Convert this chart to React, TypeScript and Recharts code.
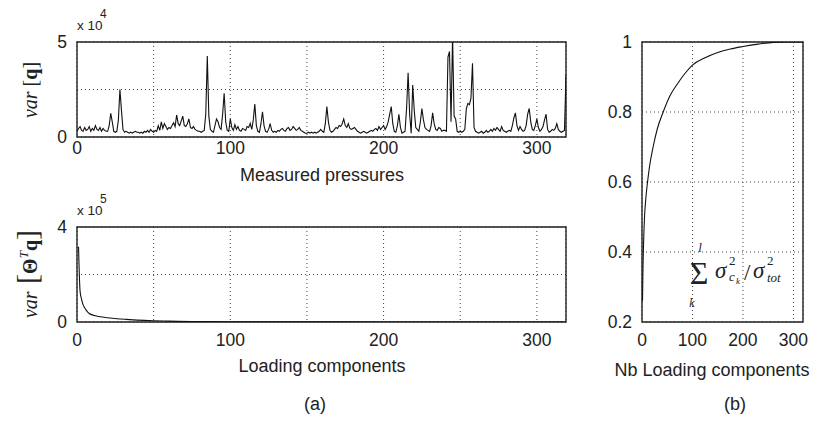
import React from 'react';
import { LineChart, Line, XAxis, YAxis, CartesianGrid, ReferenceArea } from 'recharts';

// variance of each measured pressure, x 10^4
const pressureVar: number[] = [
  0.30, 0.45, 0.55, 0.35, 0.30, 0.50, 0.35, 0.40, 0.55, 0.30, 0.45, 0.35, 0.60, 0.40, 0.35, 0.50, 0.30, 0.45, 0.35, 0.30,
  0.30, 0.60, 1.25, 0.80, 0.30, 0.25, 0.30, 0.90, 2.50, 1.40, 0.40, 0.25, 0.30, 0.25, 0.20, 0.25, 0.20, 0.25, 0.30, 0.25,
  0.25, 0.20, 0.25, 0.20, 0.30, 0.25, 0.35, 0.25, 0.40, 0.30, 0.25, 0.35, 0.30, 0.60, 0.35, 0.80, 0.45, 0.70, 0.55, 0.40,
  0.50, 0.45, 0.60, 0.75, 0.55, 1.16, 0.70, 0.60, 0.85, 1.10, 0.60, 0.55, 0.70, 0.95, 0.50, 0.45, 0.55, 0.40, 0.35, 0.30,
  0.30, 0.25, 0.30, 0.35, 1.20, 4.26, 1.10, 0.40, 0.30, 0.25, 0.60, 0.95, 0.80, 0.50, 0.40, 1.20, 2.30, 0.80, 0.35, 0.30,
  0.95, 0.50, 0.35, 0.65, 0.40, 0.55, 0.35, 0.30, 0.45, 0.40, 0.35, 0.55, 0.50, 0.72, 0.40, 0.90, 1.74, 0.60, 0.30, 0.25,
  0.70, 1.33, 0.60, 0.30, 0.25, 0.40, 0.70, 0.35, 0.25, 0.30, 0.25, 0.35, 0.30, 0.40, 0.45, 0.35, 0.30, 0.45, 0.50, 0.35,
  0.40, 0.55, 0.45, 0.35, 0.40, 0.50, 0.35, 0.30, 0.25, 0.20, 0.20, 0.25, 0.20, 0.25, 0.20, 0.25, 0.20, 0.25, 0.30, 0.40,
  0.30, 0.25, 0.70, 1.60, 0.80, 0.35, 0.25, 0.30, 0.40, 0.50, 0.45, 0.60, 0.55, 0.70, 0.95, 0.60, 0.50, 0.70, 0.45, 0.40,
  0.45, 0.50, 0.40, 0.30, 0.25, 0.20, 0.25, 0.30, 0.25, 0.20, 0.25, 0.30, 0.35, 0.30, 0.40, 0.45, 0.35, 0.55, 0.40, 0.50,
  0.60, 0.40, 0.55, 0.80, 1.20, 1.60, 0.70, 0.30, 0.25, 0.60, 1.20, 0.50, 0.20, 0.25, 0.30, 1.50, 3.38, 1.20, 0.20, 2.74,
  1.40, 0.50, 0.40, 0.30, 0.80, 1.50, 0.90, 0.50, 0.40, 0.35, 0.30, 0.60, 1.27, 0.70, 0.40, 0.35, 0.50, 0.45, 0.30, 0.35,
  0.35, 0.30, 4.20, 4.50, 0.80, 5.30, 1.10, 0.95, 0.30, 0.25, 0.30, 0.25, 0.30, 0.40, 1.50, 1.77, 1.70, 2.04, 3.88, 0.50,
  0.30, 0.25, 0.20, 0.25, 0.30, 0.20, 0.25, 0.35, 0.25, 0.30, 0.40, 0.30, 0.45, 0.35, 0.50, 0.40, 0.30, 0.55, 0.35, 0.30,
  0.25, 0.30, 0.35, 0.30, 0.60, 1.00, 1.27, 0.60, 0.35, 0.55, 0.40, 0.30, 0.35, 0.60, 1.20, 1.50, 0.80, 0.40, 0.35, 0.60,
  0.95, 0.50, 0.30, 0.40, 0.55, 0.90, 1.20, 0.40, 0.25, 0.30, 0.40, 0.35, 0.45, 0.70, 0.40, 0.30, 0.25, 0.30, 0.35, 3.26,
];

// variance of the loading components, x 10^5
const loadingK = [1, 2, 3, 4, 5, 6, 7, 8, 10, 12, 15, 20, 26, 32, 39, 50, 60, 75, 100, 150, 200, 250, 319];
const loadingVar = [3.17, 1.3, 0.95, 0.72, 0.6, 0.5, 0.42, 0.36, 0.3, 0.26, 0.22, 0.18, 0.14, 0.11, 0.08, 0.05, 0.035, 0.02, 0.012, 0.006, 0.003, 0.002, 0.001];

// cumulated variance ratio
const cumK = [1, 2, 3, 5, 8, 11, 15, 22, 30, 42, 55, 70, 85, 100, 125, 150, 175, 200, 230, 260, 290, 319];
const cumRatio = [0.26, 0.36, 0.42, 0.5, 0.56, 0.6, 0.645, 0.7, 0.75, 0.8, 0.845, 0.88, 0.91, 0.934, 0.955, 0.97, 0.98, 0.987, 0.994, 0.999, 1.0, 1.0];

const xTicks = [0, 50, 100, 150, 200, 250, 300];
const cumXTicks = [0, 100, 200, 300];
const cumYTicks = [0.2, 0.4, 0.6, 0.8, 1];

const pressureData = pressureVar.map((v, i) => ({ k: i, v }));
const loadingData = loadingK.map((k, i) => ({ k, v: loadingVar[i] }));
const cumData = cumK.map((k, i) => ({ k, v: cumRatio[i] }));

const sans = 'Liberation Sans, Arial, sans-serif';
const serif = 'Liberation Serif, Times New Roman, serif';
const tick = { fill: '#222', fontSize: 17.5, fontFamily: sans };
const gridStroke = '#444';
const boxStroke = '#222';

const hundreds = (v: number) => (v % 100 === 0 ? String(v) : '');

const TopChart = () => (
  <div style={{ position: 'absolute', left: 0, top: 0 }}>
    <LineChart width={580} height={170} data={pressureData} margin={{ top: 42, right: 14, bottom: 0, left: 0 }}>
      <CartesianGrid strokeDasharray="1 3" stroke={gridStroke} />
      <XAxis dataKey="k" type="number" domain={[0, 319]} ticks={xTicks} tickFormatter={hundreds} allowDataOverflow
        axisLine={false} tickLine={false} tickSize={0} tickMargin={5} height={33} tick={tick} />
      <YAxis domain={[0, 5]} ticks={[0, 2.5, 5]} tickFormatter={(v: number) => (v === 2.5 ? '' : String(v))} allowDataOverflow
        axisLine={false} tickLine={false} tickSize={0} tickMargin={10} width={77} tick={tick} />
      <ReferenceArea x1={0} x2={319} y1={0} y2={5} fill="none" stroke={boxStroke} strokeWidth={1.4} />
      <Line dataKey="v" type="linear" stroke="#111" strokeWidth={1.1} dot={false} isAnimationActive={false} />
    </LineChart>
  </div>
);

const BottomChart = () => (
  <div style={{ position: 'absolute', left: 0, top: 0 }}>
    <LineChart width={580} height={360} data={loadingData} margin={{ top: 227, right: 14, bottom: 0, left: 0 }}>
      <CartesianGrid strokeDasharray="1 3" stroke={gridStroke} />
      <XAxis dataKey="k" type="number" domain={[0, 319]} ticks={xTicks} tickFormatter={hundreds} allowDataOverflow
        axisLine={false} tickLine={false} tickSize={0} tickMargin={12} height={38} tick={tick} />
      <YAxis domain={[0, 4]} ticks={[0, 2, 4]} tickFormatter={(v: number) => (v === 2 ? '' : String(v))} allowDataOverflow
        axisLine={false} tickLine={false} tickSize={0} tickMargin={10} width={77} tick={tick} />
      <ReferenceArea x1={0} x2={319} y1={0} y2={4} fill="none" stroke={boxStroke} strokeWidth={1.4} />
      <Line dataKey="v" type="monotone" stroke="#111" strokeWidth={1.1} dot={false} isAnimationActive={false} />
    </LineChart>
  </div>
);

const CumChart = () => (
  <div style={{ position: 'absolute', left: 560, top: 0 }}>
    <LineChart width={254} height={360} data={cumData} margin={{ top: 42, right: 11, bottom: 0, left: 0 }}>
      <CartesianGrid strokeDasharray="1 3" stroke={gridStroke} />
      <XAxis dataKey="k" type="number" domain={[0, 319]} ticks={cumXTicks} allowDataOverflow
        axisLine={false} tickLine={false} tickSize={0} tickMargin={12} height={38} tick={tick} />
      <YAxis domain={[0.2, 1]} ticks={cumYTicks} tickFormatter={(v: number) => (v === 1 ? '1' : v.toFixed(1))} allowDataOverflow
        axisLine={false} tickLine={false} tickSize={0} tickMargin={10} width={82} tick={tick} />
      <ReferenceArea x1={0} x2={319} y1={0.2} y2={1} fill="none" stroke={boxStroke} strokeWidth={1.4} />
      <Line dataKey="v" type="monotone" stroke="#111" strokeWidth={1.1} dot={false} isAnimationActive={false} />
    </LineChart>
  </div>
);

const Labels = () => (
  <svg width={814} height={421} style={{ position: 'absolute', left: 0, top: 0, pointerEvents: 'none' }}>
    <g fill="#222" fontFamily={sans}>
      {/* exponents */}
      <text x={77} y={30} fontSize={13.5}>x 10</text>
      <text x={100} y={18} fontSize={12}>4</text>
      <text x={77} y={215} fontSize={13.5}>x 10</text>
      <text x={100} y={203} fontSize={12}>5</text>

      <text x={322} y={181} fontSize={18} textAnchor="middle">Measured pressures</text>
      <text x={322} y={372} fontSize={18} textAnchor="middle">Loading components</text>
      <text x={712} y={376} fontSize={18} textAnchor="middle">Nb Loading components</text>
      <text x={315} y={410} fontSize={18} textAnchor="middle">(a)</text>
      <text x={735} y={410} fontSize={18} textAnchor="middle">(b)</text>
    </g>

    <g fill="#222" fontFamily={serif}>
      <text transform="translate(37,90) rotate(-90)" fontSize={20} textAnchor="middle">
        <tspan fontStyle="italic">var</tspan>
        <tspan> [</tspan>
        <tspan fontWeight="bold">q</tspan>
        <tspan>]</tspan>
      </text>

      <text transform="translate(37,274) rotate(-90)" fontSize={20} textAnchor="middle">
        <tspan fontStyle="italic">var</tspan>
        <tspan fontSize={30}> [</tspan>
        <tspan fontWeight="bold">Θ</tspan>
        <tspan fontSize={13} fontStyle="italic" dy={-9}>T</tspan>
        <tspan fontWeight="bold" dy={9}>q</tspan>
        <tspan fontSize={30}>]</tspan>
      </text>

      {/* sum of sigma^2_ck / sigma^2_tot */}
      <text x={699} y={284} fontSize={32} textAnchor="middle">Σ</text>
      <text x={700} y={252} fontSize={13} fontStyle="italic" textAnchor="middle">l</text>
      <text x={692} y={307} fontSize={12} fontStyle="italic" textAnchor="middle">k</text>
      <text x={715} y={278} fontSize={23} fontStyle="italic">σ</text>
      <text x={729} y={265} fontSize={13}>2</text>
      <text x={729} y={281} fontSize={13} fontStyle="italic">c</text>
      <text x={736} y={284} fontSize={9} fontStyle="italic">k</text>
      <text x={744} y={280} fontSize={23}>/</text>
      <text x={753} y={278} fontSize={23} fontStyle="italic">σ</text>
      <text x={767} y={265} fontSize={13}>2</text>
      <text x={767} y={282} fontSize={13} fontStyle="italic">tot</text>
    </g>
  </svg>
);

export default function App() {
  return (
    <div style={{ position: 'absolute', left: 0, top: 0, width: 814, height: 421, background: '#fff', overflow: 'hidden' }}>
      <TopChart />
      <BottomChart />
      <CumChart />
      <Labels />
    </div>
  );
}
